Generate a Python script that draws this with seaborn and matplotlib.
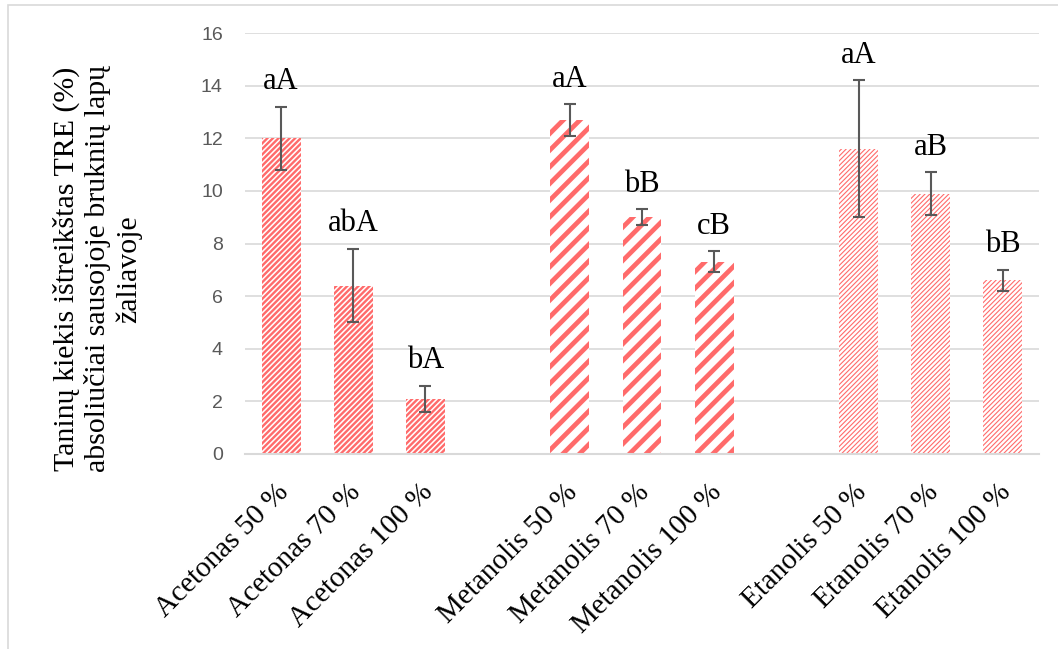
import numpy as np
import pandas as pd
import matplotlib
matplotlib.use('Agg')
import matplotlib.pyplot as plt
from matplotlib.patches import Rectangle
from matplotlib.transforms import ScaledTranslation
import seaborn as sns

# data
solvents = ['Acetonas', 'Metanolis', 'Etanolis']
concentrations = ['50 %', '70 %', '100 %']
tannin_means = [12.0, 6.4, 2.1, 12.7, 9.0, 7.3, 11.6, 9.9, 6.6]
tannin_errors = [1.2, 1.4, 0.5, 0.6, 0.3, 0.4, 2.6, 0.8, 0.4]
group_letters = ['aA', 'abA', 'bA', 'aA', 'bB', 'cB', 'aA', 'aB', 'bB']
y_ticks = [0, 2, 4, 6, 8, 10, 12, 14, 16]

sns.set_theme(style='white')
plt.rcParams['font.family'] = ['Liberation Serif', 'DejaVu Serif']

bar_color = '#FF6B6B'
hatches = {'Acetonas': ('//////', 1.7), 'Metanolis': ('//', 3.4), 'Etanolis': ('///////', 0.8)}

df = pd.DataFrame({
    'solvent': np.repeat(solvents, len(concentrations)),
    'label': [f'{s} {c}' for s in solvents for c in concentrations],
    'mean': tannin_means,
    'err': tannin_errors,
    'letter': group_letters,
})

# blank slots between the solvent groups
order = []
for i, s in enumerate(solvents):
    order += [f'{s} {c}' for c in concentrations]
    if i < len(solvents) - 1:
        order.append(' ' * (i + 1))

fig = plt.figure(figsize=(10.58, 6.49), dpi=100)
ax = fig.add_axes([245 / 1058, 1 - 454 / 649, 794 / 1058, 421 / 649])

sns.barplot(data=df, x='label', y='mean', hue='solvent', order=order,
            palette={s: 'white' for s in solvents}, width=0.54, dodge=False,
            errorbar=None, legend=False, ax=ax)

for container, s in zip(ax.containers, solvents):
    hatch, hlw = hatches[s]
    for bar in container:
        bar.set_edgecolor(bar_color)
        bar.set_linewidth(0)
        bar.set_hatch(hatch)
        if hasattr(bar, 'set_hatch_linewidth'):
            bar.set_hatch_linewidth(hlw)

positions = [order.index(l) for l in df['label']]
ax.errorbar(positions, df['mean'], yerr=df['err'], fmt='none',
            ecolor='#595959', elinewidth=1.5, capsize=4.5, capthick=1.5, zorder=3)

for x, m, e, t in zip(positions, df['mean'], df['err'], df['letter']):
    ax.annotate(t, (x, m + e), xytext=(0, 12.5), textcoords='offset points',
                ha='center', va='baseline', fontsize=22, color='black')

ax.set_xlim(-0.5, len(order) - 0.5)
ax.set_ylim(0, 16)
ax.set_yticks(y_ticks)
ax.set_yticklabels([str(v) for v in y_ticks], family=['Liberation Sans', 'DejaVu Sans'],
                   fontsize=14, color='#595959')
ax.tick_params(axis='y', length=0, pad=16)
ax.tick_params(axis='x', length=0, pad=18)
ax.set_xticks(range(len(order)))
ax.set_xticklabels([l.strip() for l in order], rotation=45, ha='right',
                   rotation_mode='anchor', fontsize=21, color='black')
shift = ScaledTranslation(-4 / 72, 0, fig.dpi_scale_trans)
for lab in ax.get_xticklabels():
    lab.set_transform(lab.get_transform() + shift)

ax.yaxis.grid(True, color='#D9D9D9', linewidth=1.2)
ax.set_axisbelow(True)
for side in ['top', 'right', 'left']:
    ax.spines[side].set_visible(False)
ax.spines['bottom'].set_color('#D9D9D9')
ax.spines['bottom'].set_linewidth(1.5)

ax.set_xlabel('')
ax.set_ylabel('Taninų kiekis ištreikštas TRE (%)\nabsoliučiai sausojoje bruknių lapų\nžaliavoje',
              fontsize=21.5, linespacing=1.2, color='black')
ax.yaxis.label.set_va('center')
ax.yaxis.set_label_coords(-0.186, 0.44)

# chart area border
fig.add_artist(Rectangle((8 / 1058, -0.1), 1.2, 1.1 - 5 / 649, transform=fig.transFigure,
                         fill=False, edgecolor='#D9D9D9', linewidth=1.2))

fig.savefig('out.png', dpi=100)
